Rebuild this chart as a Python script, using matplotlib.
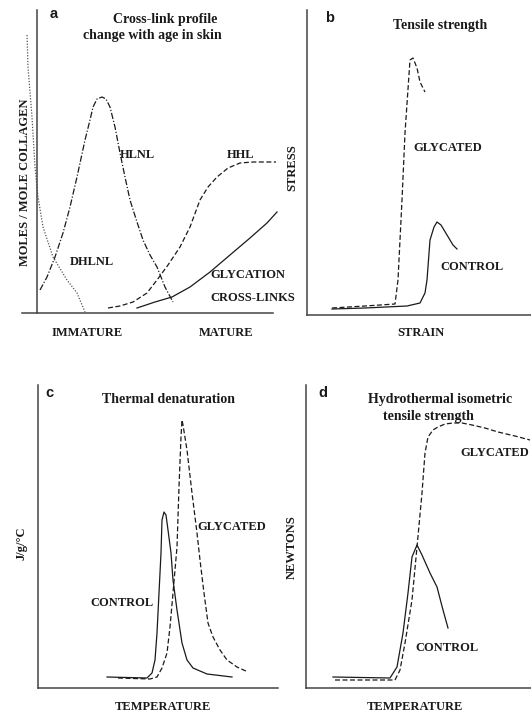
import numpy as np
import matplotlib
matplotlib.use("Agg")
import matplotlib.pyplot as plt

# Schematic curves.
# Units are arbitrary (no scale on the original axes).

# ── panel a: cross-link profile with age ──
dhlnl_x = [5, 6, 10, 13, 16, 21, 31, 45, 55, 63]
dhlnl_y = [278, 246, 196, 146, 116, 86, 56, 33, 20, 1]
hlnl_x = [18, 25, 33, 41, 48, 55, 63, 68, 71, 75, 80, 84, 88, 93, 98, 103,
          108, 115, 121, 128, 135, 143, 151]
hlnl_y = [23, 36, 56, 80, 106, 136, 173, 193, 206, 214, 216, 214, 206, 186,
          160, 136, 113, 91, 73, 58, 46, 26, 11]
hhl_x = [86, 98, 111, 125, 135, 146, 158, 168, 178, 186, 195, 206, 218, 231, 248, 254]
hhl_y = [5, 7, 11, 20, 33, 48, 66, 86, 113, 126, 136, 145, 150, 151, 151, 151]
glyc_x = [115, 133, 150, 168, 188, 208, 228, 245, 255]
glyc_y = [5, 11, 16, 26, 41, 58, 75, 90, 101]

# ── panel b: tensile strength ──
b_gly_x = [25, 58, 88, 91, 95, 98, 103, 106, 110, 113, 118]
b_gly_y = [7, 9, 11, 35, 115, 182, 255, 257, 247, 233, 223]
b_ctl_x = [25, 58, 100, 113, 118, 120, 123, 127, 130, 134, 140, 146, 150]
b_ctl_y = [6, 7, 9, 12, 22, 35, 75, 88, 93, 90, 80, 70, 66]

# ── panel c: thermal denaturation ──
c_ctl_x = [69, 109, 114, 117, 119, 121, 123, 124, 126, 128, 130, 133, 135,
           139, 144, 149, 155, 169, 194]
c_ctl_y = [11, 10, 15, 28, 55, 95, 135, 168, 176, 173, 158, 135, 108,
           78, 45, 28, 20, 14, 11]
c_gly_x = [80, 112, 119, 124, 129, 132, 135, 139, 141, 143, 144, 145, 149,
           154, 159, 162, 166, 170, 175, 182, 189, 199, 210]
c_gly_y = [10, 9, 11, 20, 35, 61, 95, 141, 201, 251, 268, 263, 238,
           195, 155, 128, 95, 65, 51, 38, 28, 21, 16]

# ── panel d: hydrothermal isometric tension ──
d_gly_x = [29, 89, 94, 99, 106, 111, 116, 119, 122, 127, 132, 139, 147, 156,
           166, 179, 192, 209, 224]
d_gly_y = [8, 8, 18, 45, 88, 141, 195, 235, 251, 258, 261, 264, 265, 265,
           263, 260, 256, 252, 248]
d_ctl_x = [27, 84, 91, 97, 102, 106, 111, 116, 124, 131, 137, 142]
d_ctl_y = [11, 10, 21, 55, 95, 131, 143, 133, 115, 101, 78, 60]

W, H = 531, 718
SERIF = "Liberation Serif"
SANS = "Liberation Sans"
INK = "#1a1a1a"
AX_COL = "#444444"

fig = plt.figure(figsize=(W / 100, H / 100), dpi=100)


def add_panel(left, right, top, bottom):
    # pixel box -> figure fraction
    ax = fig.add_axes([left / W, 1 - bottom / H, (right - left) / W, (bottom - top) / H])
    ax.set_xlim(0, right - left)
    ax.set_ylim(0, bottom - top)
    for s in ("top", "right"):
        ax.spines[s].set_visible(False)
    for s in ("left", "bottom"):
        ax.spines[s].set_color(AX_COL)
        ax.spines[s].set_linewidth(1.1)
    ax.set_xticks([])
    ax.set_yticks([])
    ax.patch.set_alpha(0)
    return ax


def label(ax, x, y, s, size=9, ha="left", rot=0):
    ax.text(x, y, s, fontsize=size, fontweight="bold", family=SERIF, color=INK,
            ha=ha, va="center", rotation=rot)


def letter(ax, x, y, s):
    ax.text(x, y, s, fontsize=10.5, fontweight="bold", family=SANS, color=INK,
            ha="left", va="center")


dashed = dict(color=INK, lw=0.9, dashes=(4, 2))
solid = dict(color=INK, lw=0.9)

# ══════════════════════════════════════════════
# a
# ══════════════════════════════════════════════
ax = add_panel(22, 280, 10, 313)
ax.spines["left"].set_position(("data", 15))
ax.spines["bottom"].set_bounds(0, 251)
ax.plot(dhlnl_x, dhlnl_y, color="#555555", lw=0.9, dashes=(1, 1.3))
ax.plot(hlnl_x, hlnl_y, color=INK, lw=0.9, dashes=(5, 1.5, 1, 1.5))
ax.plot(hhl_x, hhl_y, **dashed)
ax.plot(glyc_x, glyc_y, **solid)

letter(ax, 28, 299, "a")
label(ax, 143, 294, "Cross-link profile", size=10, ha="center")
label(ax, 130, 278, "change with age in skin", size=10, ha="center")
label(ax, 98, 158, "HLNL")
label(ax, 205, 158, "HHL")
label(ax, 48, 51, "DHLNL")
label(ax, 188, 38, "GLYCATION")
label(ax, 188, 15, "CROSS-LINKS")
label(ax, 65, -20, "IMMATURE", ha="center")
label(ax, 204, -20, "MATURE", ha="center")
label(ax, 3, 131, "MOLES / MOLE COLLAGEN", ha="center", rot=90)

# ══════════════════════════════════════════════
# b
# ══════════════════════════════════════════════
ax = add_panel(307, 531, 10, 315)
ax.plot(b_gly_x, b_gly_y, **dashed)
ax.plot(b_ctl_x, b_ctl_y, **solid)

letter(ax, 18, 297, "b")
label(ax, 133, 290, "Tensile strength", size=10, ha="center")
label(ax, 106, 167, "GLYCATED")
label(ax, 133, 48, "CONTROL")
label(ax, -15, 147, "STRESS", ha="center", rot=90)
label(ax, 114, -18, "STRAIN", ha="center")

# ══════════════════════════════════════════════
# c
# ══════════════════════════════════════════════
ax = add_panel(38, 278, 385, 688)
ax.plot(c_ctl_x, c_ctl_y, **solid)
ax.plot(c_gly_x, c_gly_y, **dashed)

letter(ax, 7, 295, "c")
label(ax, 130, 288, "Thermal denaturation", size=10, ha="center")
label(ax, 159, 161, "GLYCATED")
label(ax, 52, 85, "CONTROL")
label(ax, -16, 145, "J/g/°C", ha="center", rot=90)
label(ax, 125, -19, "TEMPERATURE", ha="center")

# ══════════════════════════════════════════════
# d
# ══════════════════════════════════════════════
ax = add_panel(306, 531, 385, 688)
ax.plot(d_ctl_x, d_ctl_y, **solid)
ax.plot(d_gly_x, d_gly_y, **dashed)

letter(ax, 12, 295, "d")
label(ax, 134, 288, "Hydrothermal isometric", size=10, ha="center")
label(ax, 122, 271, "tensile strength", size=10, ha="center")
label(ax, 154, 235, "GLYCATED")
label(ax, 109, 40, "CONTROL")
label(ax, -14, 141, "NEWTONS", ha="center", rot=90)
label(ax, 109, -19, "TEMPERATURE", ha="center")

fig.savefig("out.png", dpi=100)
